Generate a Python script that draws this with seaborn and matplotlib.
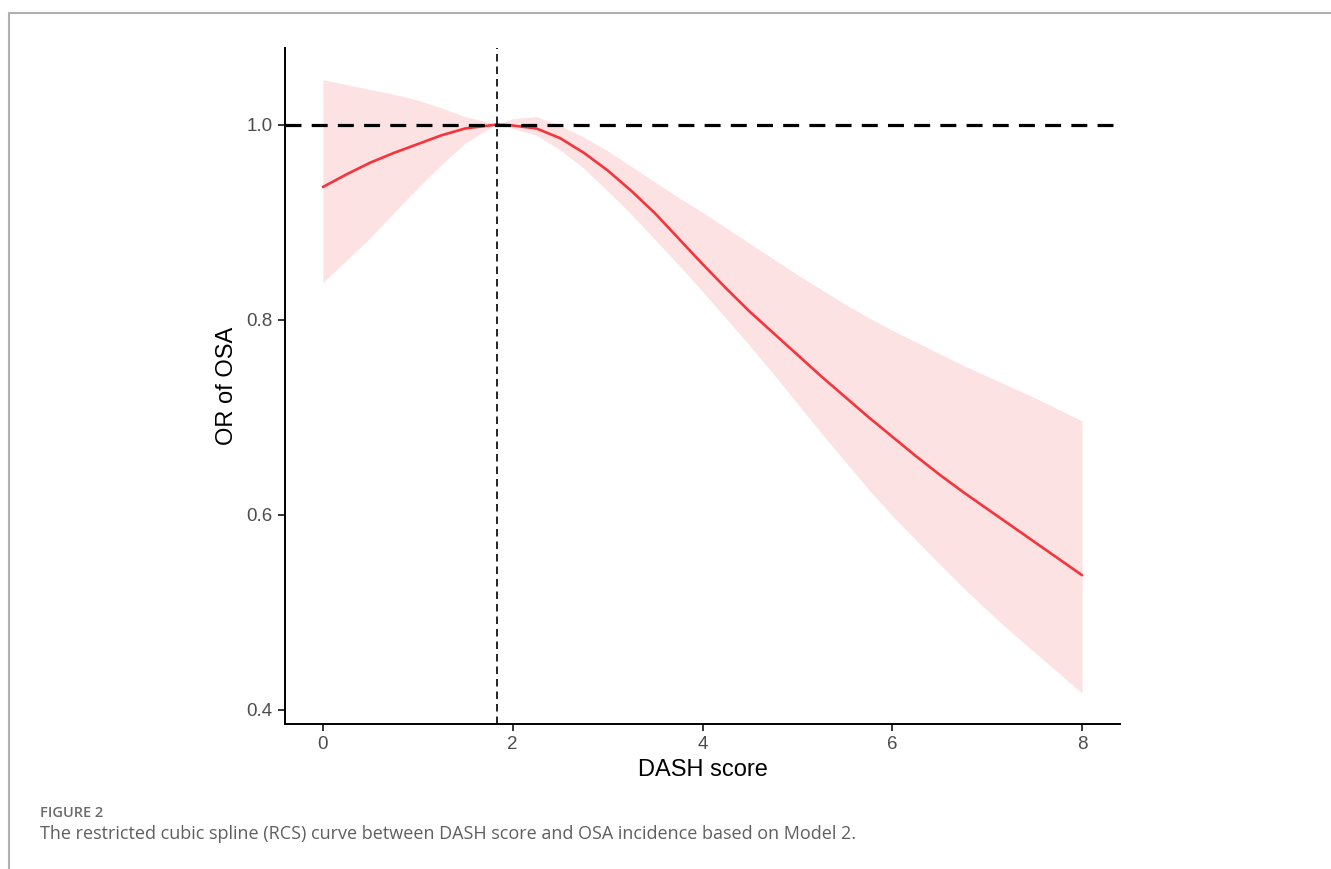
import matplotlib
matplotlib.use("Agg")
import matplotlib.pyplot as plt
import seaborn as sns
import pandas as pd
from matplotlib.lines import Line2D

# ---- data ----
dash_score = [0, 0.25, 0.5, 0.75, 1.0, 1.25, 1.5, 1.75, 1.83, 2.0, 2.25, 2.5, 2.75, 3.0, 3.25, 3.5, 3.75,
              4.0, 4.25, 4.5, 4.75, 5.0, 5.25, 5.5, 5.75, 6.0, 6.25, 6.5, 6.75, 7.0, 7.25, 7.5, 7.75, 8.0]
or_value = [0.936, 0.949, 0.961, 0.971, 0.980, 0.989, 0.996, 0.999, 1.000, 0.999, 0.996, 0.986, 0.971, 0.953,
            0.932, 0.909, 0.883, 0.857, 0.832, 0.808, 0.786, 0.764, 0.742, 0.721, 0.700, 0.680, 0.660, 0.641,
            0.623, 0.606, 0.589, 0.572, 0.555, 0.538]
or_upper = [1.046, 1.041, 1.036, 1.031, 1.025, 1.017, 1.008, 1.002, 1.000, 1.006, 1.008, 0.999, 0.987, 0.973,
            0.957, 0.941, 0.925, 0.910, 0.894, 0.878, 0.862, 0.846, 0.831, 0.816, 0.802, 0.789, 0.777, 0.765,
            0.753, 0.742, 0.731, 0.720, 0.708, 0.696]
or_lower = [0.838, 0.861, 0.884, 0.910, 0.935, 0.959, 0.981, 0.996, 1.000, 0.996, 0.989, 0.974, 0.955, 0.932,
            0.908, 0.882, 0.856, 0.829, 0.801, 0.773, 0.744, 0.714, 0.684, 0.655, 0.626, 0.599, 0.574, 0.549,
            0.525, 0.502, 0.480, 0.459, 0.438, 0.417]
ref_value = 1.83
x_ticks = [0, 2, 4, 6, 8]
y_ticks = [0.4, 0.6, 0.8, 1.0]

df = pd.DataFrame({"dash": dash_score, "OR": or_value, "lower": or_lower, "upper": or_upper})

sns.set_style("ticks")
plt.rcParams["font.family"] = ["Liberation Sans Narrow", "Liberation Sans", "DejaVu Sans"]

fig = plt.figure(figsize=(13.31, 8.69), dpi=100)
ax = fig.add_axes([0.2141, 0.1669, 0.6274, 0.7779])

# confidence band + spline curve
ax.fill_between(df["dash"], df["lower"], df["upper"], color="#fde2e3", linewidth=0, zorder=1)
sns.lineplot(data=df, x="dash", y="OR", color="#f5353b", linewidth=1.9, ax=ax, zorder=3)
ax.axhline(1.0, color="black", linestyle=(0, (5, 3.2)), linewidth=2.3, zorder=4)
ax.axvline(ref_value, color="black", linestyle=(0, (4.5, 3)), linewidth=1.2, zorder=4)

ax.set_xlim(-0.4, 8.4)
ax.set_ylim(0.3855, 1.0785)
ax.set_xticks(x_ticks)
ax.set_xticklabels([str(v) for v in x_ticks])
ax.set_yticks(y_ticks)
ax.set_yticklabels([f"{v:.1f}" for v in y_ticks])
ax.tick_params(axis="both", colors="black", labelcolor="#4d4d4d", labelsize=13.5,
               length=5, width=1.1, direction="out", pad=4)

ax.set_xlabel("DASH score", fontsize=17, color="black", labelpad=4)
ax.set_ylabel("OR of OSA", fontsize=17, color="black", labelpad=6)

sns.despine(ax=ax)
for s in ["left", "bottom"]:
    ax.spines[s].set_linewidth(1.4)
    ax.spines[s].set_color("black")

# page frame lines (gray) and caption
fig.add_artist(Line2D([9 / 1331, 1], [1 - 13 / 869, 1 - 13 / 869], color="#b0b0b0", linewidth=1.5))
fig.add_artist(Line2D([9 / 1331, 9 / 1331], [0, 1 - 13 / 869], color="#b0b0b0", linewidth=1.5))

fig.text(40 / 1331, 1 - 813 / 869, "FIGURE 2", fontsize=10.5, fontweight="semibold",
         color="#6b6b6b", family=["Open Sans", "DejaVu Sans"], va="center", ha="left")
fig.text(40 / 1331, 1 - 834 / 869,
         "The restricted cubic spline (RCS) curve between DASH score and OSA incidence based on Model 2.",
         fontsize=13, color="#5f5f5f", family=["Open Sans", "DejaVu Sans"], va="center", ha="left")

fig.savefig("out.png", dpi=100, facecolor="white")
